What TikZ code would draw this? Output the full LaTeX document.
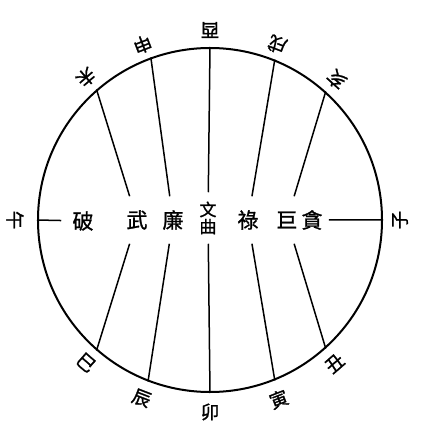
\documentclass[tikz,border=0pt]{standalone}
\usepackage{fontspec}
\newfontfamily\cjk[FakeBold=1.2]{Noto Sans CJK TC}
\begin{document}
\begin{tikzpicture}[x=1pt, y=1pt, line width=1.5pt,
	branch/.style={font=\cjk\fontsize{18.5}{18.5}\selectfont, inner sep=0pt},
	star/.style={font=\cjk\fontsize{21}{21}\selectfont, inner sep=0pt, minimum width=32pt, minimum height=46pt}]
	\useasboundingbox (-210,-211) rectangle (220,220);
	\node [circle, draw, line width=2pt, minimum size=344pt, inner sep=0pt] (rim) at (0,0) {};
	% seven stars
	\node [star, minimum width=42pt] (pojun) at (-127,-1) {破};
	\node [star] (wuqu) at (-73,0) {武};
	\node [star] (lianzhen) at (-37,0) {廉};
	\node [star, font=\cjk\fontsize{17}{17}\selectfont, align=center, minimum height=50pt] (wenqu) at (-2,2) {文\\曲};
	\node [star] (lucun) at (38,0) {祿};
	\node [star] (jumen) at (77,0) {巨};
	\node [star] (tanlang) at (102,0) {貪};
	% twelve branches
	\node [branch, rotate=90] (zi) at (0:190) {子};
	\node [branch, rotate=138] (hai) at (48:189) {亥};
	\node [branch, rotate=159] (xu) at (69:188) {戌};
	\node [branch, rotate=180] (you) at (90:190) {酉};
	\node [branch, rotate=201] (shen) at (111:188) {申};
	\node [branch, rotate=221] (wei) at (131:189) {未};
	\node [branch, rotate=270] (wu) at (180:195) {午};
	\node [branch, rotate=319] (si) at (229:189) {巳};
	\node [branch, rotate=339] (chen) at (249:191) {辰};
	\node [branch] (mao) at (270:192) {卯};
	\node [branch, rotate=21] (yin) at (291:192) {寅};
	\node [branch, rotate=41] (chou) at (311:190) {丑};
	\draw
	(rim.180) -- (pojun)
	(rim.131) -- (wuqu) (rim.229) -- (wuqu)
	(rim.110) -- (lianzhen) (rim.249) -- (lianzhen)
	(rim.90) -- (wenqu) (rim.270) -- (wenqu)
	(rim.68) -- (lucun) (rim.292) -- (lucun)
	(rim.48) -- (jumen) (rim.312) -- (jumen)
	(rim.0) -- (tanlang);
\end{tikzpicture}
\end{document}
